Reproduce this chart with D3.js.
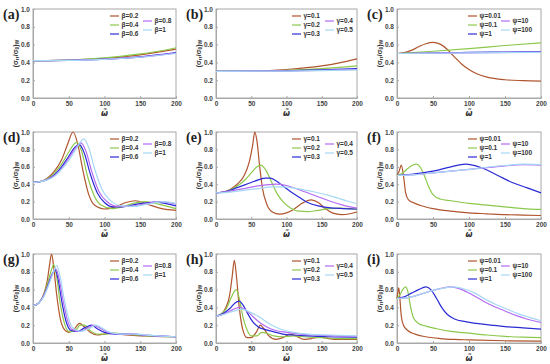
<!DOCTYPE html>
<html><head><meta charset="utf-8">
<script src="https://cdn.jsdelivr.net/npm/d3@7/dist/d3.min.js"></script>
<style>body{margin:0;background:#fff}svg{display:block}</style>
</head><body><svg id="c" width="550" height="364"></svg>
<script>
// ---------- data ----------
const xTicks = [0, 50, 100, 150, 200];
const yTicks = [0, 0.2, 0.4, 0.6, 0.8, 1.0];
const panelLabels = ["(a)","(b)","(c)","(d)","(e)","(f)","(g)","(h)","(i)"];
const betaNames = ["β=0.2","β=0.4","β=0.6","β=0.8","β=1"];
const gammaNames = ["γ=0.1","γ=0.2","γ=0.3","γ=0.4","γ=0.5"];
const psiNames = ["ψ=0.01","ψ=0.1","ψ=1","ψ=10","ψ=100"];
const colors = ["#b0552e","#8cc84b","#2b2bd6","#b36bf5","#a6d8f5"];

const panelA = [
 [[0,.42],[25,.421],[50,.425],[75,.433],[100,.445],[125,.462],[150,.485],[175,.515],[200,.55]],
 [[0,.42],[50,.426],[100,.45],[150,.495],[175,.525],[200,.565]],
 [[0,.42],[50,.423],[100,.437],[150,.463],[200,.51]],
 [[0,.42],[50,.423],[100,.436],[150,.46],[200,.505]],
 [[0,.42],[50,.422],[100,.435],[150,.458],[200,.50]]
];
const panelB = [
 [[0,.30],[50,.302],[100,.32],[150,.36],[175,.395],[200,.44]],
 [[0,.30],[50,.301],[100,.31],[150,.33],[200,.36]],
 [[0,.30],[100,.305],[150,.315],[200,.33]],
 [[0,.30],[100,.303],[150,.31],[200,.32]],
 [[0,.30],[100,.302],[150,.307],[200,.315]]
];
const panelC = [
 [[0,.5],[10,.51],[20,.535],[30,.575],[40,.61],[50,.625],[60,.605],[70,.545],[80,.46],[90,.38],[100,.32],[110,.275],[125,.235],[150,.205],[175,.195],[200,.19]],
 [[0,.5],[50,.525],[100,.555],[150,.59],[200,.62]],
 [[0,.5],[50,.505],[100,.512],[150,.516],[200,.52]],
 [[0,.5],[100,.508],[200,.515]],
 [[0,.5],[100,.506],[200,.512]]
];
const panelD = [
 [[0,.42],[10,.43],[20,.47],[30,.55],[40,.68],[48,.85],[56,1.0],[62,.88],[70,.55],[78,.28],[86,.16],[100,.115],[115,.14],[130,.19],[143,.21],[160,.17],[180,.12],[200,.10]],
 [[0,.42],[10,.43],[20,.46],[30,.53],[40,.63],[50,.77],[61,.88],[68,.78],[76,.5],[85,.28],[95,.16],[110,.12],[125,.14],[140,.18],[157,.2],[175,.17],[200,.12]],
 [[0,.42],[10,.43],[20,.455],[30,.51],[40,.6],[50,.72],[58,.82],[65,.855],[72,.75],[80,.52],[90,.3],[100,.19],[112,.14],[125,.14],[145,.17],[170,.195],[185,.18],[200,.15]],
 [[0,.42],[10,.43],[20,.452],[30,.5],[40,.58],[50,.7],[60,.82],[67,.875],[74,.78],[82,.55],[92,.32],[105,.19],[118,.145],[135,.145],[155,.17],[178,.2],[190,.19],[200,.17]],
 [[0,.42],[10,.43],[20,.45],[30,.49],[40,.57],[50,.67],[60,.8],[71,.92],[78,.82],[86,.58],[96,.35],[110,.2],[125,.15],[140,.145],[160,.17],[183,.2],[200,.18]]
];
const panelE = [
 [[0,.3],[10,.31],[20,.34],[30,.4],[40,.5],[47,.65],[52,.85],[55,1.0],[58,.9],[62,.6],[66,.35],[72,.17],[80,.08],[90,.055],[100,.07],[110,.11],[122,.18],[135,.22],[145,.19],[155,.12],[165,.07],[178,.05],[190,.06],[200,.08]],
 [[0,.3],[10,.31],[20,.335],[30,.38],[40,.44],[50,.53],[58,.6],[64,.62],[70,.57],[78,.44],[86,.3],[95,.2],[105,.13],[118,.09],[130,.085],[145,.1],[160,.12],[175,.125],[190,.12],[200,.11]],
 [[0,.3],[10,.31],[20,.33],[30,.36],[40,.39],[50,.42],[60,.45],[70,.47],[77,.47],[85,.44],[95,.38],[105,.32],[118,.25],[130,.19],[145,.15],[160,.13],[180,.12],[200,.115]],
 [[0,.3],[20,.32],[40,.35],[60,.38],[75,.395],[85,.40],[100,.385],[120,.33],[140,.27],[160,.21],[180,.16],[200,.125]],
 [[0,.3],[20,.31],[40,.33],[60,.35],[80,.37],[95,.37],[115,.35],[140,.31],[165,.26],[185,.21],[200,.175]]
];
const panelF = [
 [[0,.5],[3,.55],[6,.62],[9,.5],[12,.3],[16,.22],[25,.18],[35,.15],[50,.12],[75,.09],[100,.07],[125,.06],[150,.05],[175,.045],[200,.04]],
 [[0,.5],[8,.53],[15,.58],[22,.62],[27,.63],[32,.6],[38,.5],[44,.37],[50,.28],[60,.23],[75,.21],[100,.18],[125,.16],[150,.14],[175,.12],[200,.11]],
 [[0,.5],[25,.52],[50,.55],[75,.6],[95,.63],[105,.62],[120,.58],[140,.5],[160,.42],[180,.36],[200,.3]],
 [[0,.5],[25,.51],[50,.53],[75,.55],[100,.57],[125,.59],[150,.61],[175,.625],[200,.62]],
 [[0,.5],[25,.51],[50,.53],[75,.55],[100,.57],[125,.595],[150,.615],[175,.63],[200,.625]]
];
const panelG = [
 [[0,.42],[8,.45],[15,.55],[20,.7],[23,.87],[26,1.0],[29,.85],[33,.55],[38,.28],[44,.15],[50,.12],[57,.15],[65,.22],[72,.18],[80,.12],[90,.09],[100,.1],[110,.11],[120,.1],[140,.085],[170,.075],[200,.07]],
 [[0,.42],[8,.45],[15,.54],[20,.66],[25,.8],[29,.88],[33,.75],[38,.45],[44,.22],[50,.13],[58,.13],[66,.2],[72,.2],[80,.14],[90,.1],[100,.1],[115,.11],[130,.1],[160,.08],[200,.07]],
 [[0,.42],[8,.45],[15,.53],[20,.63],[26,.76],[31,.82],[35,.72],[40,.48],[46,.25],[53,.14],[62,.13],[72,.17],[82,.2],[90,.16],[100,.12],[115,.1],[130,.1],[140,.1],[160,.085],[200,.07]],
 [[0,.42],[8,.45],[15,.53],[20,.62],[26,.75],[32,.83],[36,.74],[42,.48],[48,.26],[55,.15],[65,.13],[75,.16],[85,.2],[93,.17],[105,.12],[120,.1],[140,.1],[160,.085],[200,.07]],
 [[0,.42],[8,.45],[15,.52],[20,.61],[27,.76],[33,.87],[37,.78],[43,.52],[50,.27],[57,.16],[67,.13],[78,.16],[88,.2],[96,.17],[108,.12],[125,.1],[145,.1],[165,.085],[200,.07]]
];
const panelH = [
 [[0,.3],[8,.33],[14,.4],[19,.52],[23,.75],[26,.93],[29,.75],[33,.4],[38,.15],[44,.06],[50,.06],[57,.12],[63,.2],[68,.16],[75,.08],[85,.04],[95,.06],[105,.1],[113,.08],[125,.04],[135,.05],[148,.065],[160,.05],[175,.04],[200,.04]],
 [[0,.3],[8,.33],[15,.39],[21,.5],[26,.58],[29,.6],[33,.5],[38,.3],[44,.15],[50,.08],[58,.08],[65,.12],[72,.11],[82,.08],[95,.07],[110,.08],[125,.07],[150,.06],[175,.05],[200,.05]],
 [[0,.3],[10,.33],[20,.39],[27,.45],[33,.47],[38,.43],[45,.33],[52,.24],[60,.18],[70,.15],[80,.13],[95,.1],[110,.09],[130,.08],[160,.07],[200,.065]],
 [[0,.3],[10,.32],[20,.36],[28,.39],[34,.4],[42,.37],[52,.3],[62,.23],[72,.18],[85,.14],[100,.12],[120,.1],[150,.085],[200,.075]],
 [[0,.3],[10,.32],[20,.345],[30,.37],[37,.38],[47,.35],[60,.3],[75,.22],[90,.16],[110,.12],[130,.1],[160,.09],[200,.08]]
];
const panelI = [
 [[0,.5],[1,.56],[2.5,.62],[4,.5],[6,.3],[9,.2],[15,.14],[25,.1],[40,.07],[60,.05],[80,.04],[100,.035],[150,.025],[200,.02]],
 [[0,.5],[4,.54],[8,.6],[12,.63],[15,.58],[19,.4],[23,.28],[30,.22],[40,.19],[55,.16],[75,.13],[100,.11],[125,.09],[150,.075],[175,.065],[200,.06]],
 [[0,.5],[10,.52],[20,.56],[30,.6],[40,.63],[47,.6],[55,.5],[62,.4],[70,.32],[80,.27],[95,.24],[110,.22],[130,.2],[150,.185],[175,.17],[200,.155]],
 [[0,.5],[15,.51],[30,.54],[45,.58],[60,.61],[75,.63],[90,.6],[105,.54],[120,.47],[135,.41],[150,.36],[165,.31],[180,.27],[200,.23]],
 [[0,.5],[15,.51],[30,.54],[45,.58],[60,.61],[78,.63],[92,.61],[108,.56],[123,.49],[138,.43],[153,.38],[168,.33],[183,.29],[200,.25]]
];
const panels = [panelA,panelB,panelC,panelD,panelE,panelF,panelG,panelH,panelI];
const legendNames = [betaNames,gammaNames,psiNames];

// ---------- layout ----------
const cols = [{l:33,r:176,lg:77},{l:216,r:357,lg:76},{l:397,r:541,lg:71}];
const rows = [{t:9,b:98},{t:132,b:219},{t:254,b:343}];
const svg = d3.select("#c");
const tickFont = "'Liberation Sans', Arial, sans-serif";

panels.forEach((series, i) => {
  const c = cols[i % 3], r = rows[Math.floor(i / 3)];
  const x = d3.scaleLinear().domain([0, 200]).range([c.l, c.r]);
  const y = d3.scaleLinear().domain([0, 1]).range([r.b, r.t]);
  const g = svg.append("g");

  // frame
  g.append("rect").attr("x", c.l).attr("y", r.t).attr("width", c.r - c.l).attr("height", r.b - r.t)
    .attr("fill", "none").attr("stroke", "#a8a8a8").attr("stroke-width", 1);

  // axes
  const xa = g.append("g").attr("transform", `translate(0,${r.b})`)
    .call(d3.axisBottom(x).tickValues(xTicks).tickSize(-2).tickPadding(3).tickFormat(d3.format("d")));
  const ya = g.append("g").attr("transform", `translate(${c.l},0)`)
    .call(d3.axisLeft(y).tickValues(yTicks).tickSize(-2).tickPadding(3).tickFormat(d3.format(".1f")));
  [xa, ya].forEach(a => {
    a.select(".domain").attr("stroke", "#a8a8a8");
    a.selectAll(".tick line").attr("stroke", "#a8a8a8");
    a.selectAll(".tick text").attr("fill", "#444").style("font-family", tickFont)
      .style("font-size", "6.5px").style("font-weight", "bold");
  });

  // curves
  const line = d3.line().x(d => x(d[0])).y(d => y(d[1])).curve(d3.curveMonotoneX);
  series.forEach((s, k) => {
    g.append("path").datum(s).attr("d", line).attr("fill", "none")
      .attr("stroke", colors[k]).attr("stroke-width", 1.2);
  });

  // x label
  g.append("text").attr("x", (c.l + c.r) / 2).attr("y", r.b + 18).attr("text-anchor", "middle")
    .style("font-family", "'DejaVu Sans', sans-serif").style("font-size", "8px")
    .style("font-style", "italic").style("font-weight", "bold").attr("fill", "#333").text("ω\u0303");

  // y label
  const yl = g.append("text").attr("transform", `translate(${c.l - 15},${(r.t + r.b) / 2}) rotate(-90)`)
    .attr("text-anchor", "middle").style("font-family", tickFont).style("font-size", "7px")
    .style("font-weight", "bold").attr("fill", "#333");
  yl.append("tspan").text("(σ");
  yl.append("tspan").attr("baseline-shift", "-25%").style("font-size", "5px").text("rr");
  yl.append("tspan").text("/σ");
  yl.append("tspan").attr("baseline-shift", "-25%").style("font-size", "5px").text("0");
  yl.append("tspan").text(")");
  yl.append("tspan").attr("baseline-shift", "-25%").style("font-size", "5px").text("W");

  // panel label
  g.append("text").attr("x", c.l - 30).attr("y", r.t + 10)
    .style("font-family", "'Liberation Serif', 'Times New Roman', serif").style("font-size", "14px")
    .style("font-weight", "bold").attr("fill", "#222").text(panelLabels[i]);

  // legend
  const names = legendNames[i % 3];
  const pos = [[0, 7], [0, 16], [0, 25], [33, 12], [33, 21]];
  names.forEach((nm, k) => {
    const lx = c.l + c.lg + pos[k][0], ly = r.t + pos[k][1];
    g.append("line").attr("x1", lx).attr("x2", lx + 9).attr("y1", ly).attr("y2", ly)
      .attr("stroke", colors[k]).attr("stroke-width", 1.2);
    g.append("text").attr("x", lx + 11.5).attr("y", ly + 2.2)
      .style("font-family", tickFont).style("font-size", "6.5px").style("font-weight", "bold")
      .attr("fill", "#333").text(nm);
  });
});
</script></body></html>
